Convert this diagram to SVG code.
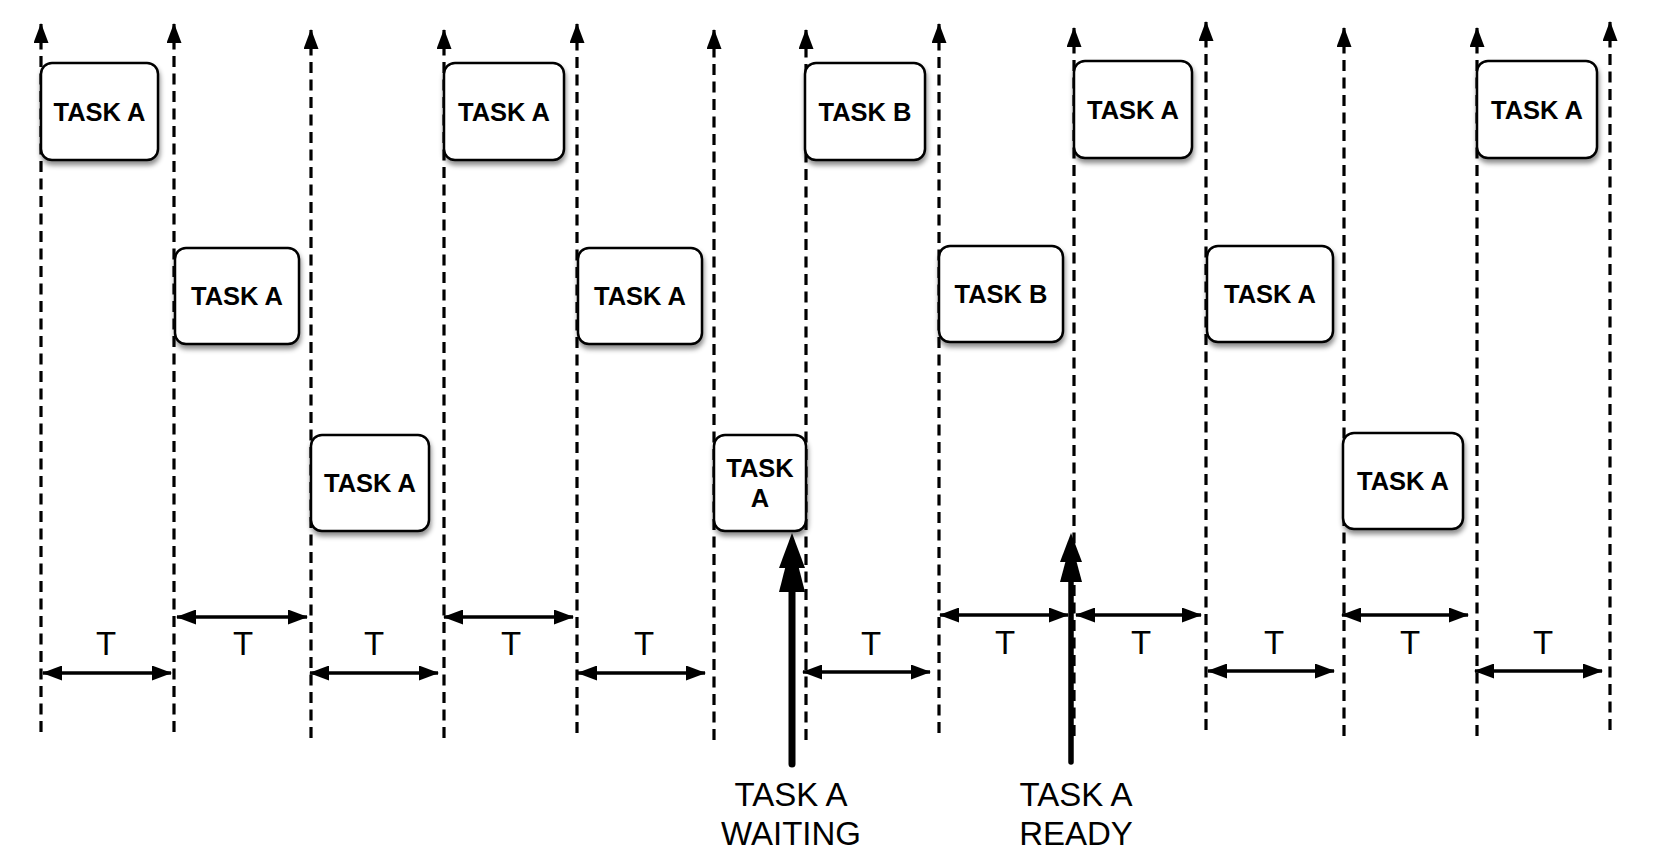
<svg xmlns="http://www.w3.org/2000/svg" width="1656" height="860" viewBox="0 0 1656 860">
<style>
.dl{fill:none;stroke:#000;stroke-width:3.2;stroke-dasharray:11 6.5}
.ha{fill:none;stroke:#000;stroke-width:3.5}
.box{fill:#fff;stroke:#000;stroke-width:2.5}
.bt{font-family:"Liberation Sans",Arial,Helvetica,sans-serif;font-weight:bold;font-size:25.5px;fill:#000;text-anchor:middle}
.tl{font-family:"Liberation Sans",Arial,Helvetica,sans-serif;font-size:33px;fill:#000;text-anchor:middle}
.th{fill:#000}
</style>
<defs>
<marker id="ah" viewBox="0 0 20 15" refX="19" refY="7.5" markerWidth="20" markerHeight="15" markerUnits="userSpaceOnUse" orient="auto-start-reverse">
<path d="M0,0 L20,7.5 L0,15 z" fill="#000"/>
</marker>
<filter id="sh" x="-20%" y="-20%" width="140%" height="150%">
<feDropShadow dx="1" dy="4" stdDeviation="2.5" flood-color="#000" flood-opacity="0.45"/>
</filter>
</defs>
<g id="connectors">
<path class="dl" d="M41,732 V24" marker-end="url(#ah)"/>
<path class="dl" d="M174,732 V24" marker-end="url(#ah)"/>
<path class="dl" d="M311,738 V30" marker-end="url(#ah)"/>
<path class="dl" d="M444,738 V30" marker-end="url(#ah)"/>
<path class="dl" d="M577,733 V24" marker-end="url(#ah)"/>
<path class="dl" d="M714,740 V30" marker-end="url(#ah)"/>
<path class="dl" d="M806,740 V30" marker-end="url(#ah)"/>
<path class="dl" d="M939,733 V24" marker-end="url(#ah)"/>
<path class="dl" d="M1074,736 V28" marker-end="url(#ah)"/>
<path class="dl" d="M1206,730 V22" marker-end="url(#ah)"/>
<path class="dl" d="M1344,736 V28" marker-end="url(#ah)"/>
<path class="dl" d="M1477,736 V28" marker-end="url(#ah)"/>
<path class="dl" d="M1610,730 V22" marker-end="url(#ah)"/>
<path class="ha" d="M43,673 H171" marker-start="url(#ah)" marker-end="url(#ah)"/>
<path class="ha" d="M177,617 H307" marker-start="url(#ah)" marker-end="url(#ah)"/>
<path class="ha" d="M310,673 H438" marker-start="url(#ah)" marker-end="url(#ah)"/>
<path class="ha" d="M444,617 H573" marker-start="url(#ah)" marker-end="url(#ah)"/>
<path class="ha" d="M578,673 H705" marker-start="url(#ah)" marker-end="url(#ah)"/>
<path class="ha" d="M803,672 H930" marker-start="url(#ah)" marker-end="url(#ah)"/>
<path class="ha" d="M940,615 H1068" marker-start="url(#ah)" marker-end="url(#ah)"/>
<path class="ha" d="M1076,615 H1201" marker-start="url(#ah)" marker-end="url(#ah)"/>
<path class="ha" d="M1208,671 H1334" marker-start="url(#ah)" marker-end="url(#ah)"/>
<path class="ha" d="M1342,615 H1468" marker-start="url(#ah)" marker-end="url(#ah)"/>
<path class="ha" d="M1475,671 H1602" marker-start="url(#ah)" marker-end="url(#ah)"/>
<path d="M792,764 V585" stroke="#000" stroke-width="7" stroke-linecap="round" fill="none"/>
<polygon class="th" points="792,541 805,592 779,592"/>
<polygon class="th" points="792,533 805,568 779,568"/>
<path d="M1071,762 V577" stroke="#000" stroke-width="5.5" stroke-linecap="round" fill="none"/>
<polygon class="th" points="1071,541 1082,582 1060,582"/>
<polygon class="th" points="1071,533 1082,562 1060,562"/>
</g>
<g id="n1"><rect class="box" filter="url(#sh)" x="41" y="63" width="117" height="97" rx="11"/><text class="bt" x="99.5" y="120.5">TASK A</text></g>
<g id="n2"><rect class="box" filter="url(#sh)" x="444" y="63" width="120" height="97" rx="11"/><text class="bt" x="504" y="120.5">TASK A</text></g>
<g id="n3"><rect class="box" filter="url(#sh)" x="805" y="63" width="120" height="97" rx="11"/><text class="bt" x="865" y="120.5">TASK B</text></g>
<g id="n4"><rect class="box" filter="url(#sh)" x="1074" y="61" width="118" height="97" rx="11"/><text class="bt" x="1133" y="118.5">TASK A</text></g>
<g id="n5"><rect class="box" filter="url(#sh)" x="1477" y="61" width="120" height="97" rx="11"/><text class="bt" x="1537" y="118.5">TASK A</text></g>
<g id="n6"><rect class="box" filter="url(#sh)" x="175" y="248" width="124" height="96" rx="11"/><text class="bt" x="237" y="305">TASK A</text></g>
<g id="n7"><rect class="box" filter="url(#sh)" x="578" y="248" width="124" height="96" rx="11"/><text class="bt" x="640" y="305">TASK A</text></g>
<g id="n8"><rect class="box" filter="url(#sh)" x="939" y="246" width="124" height="96" rx="11"/><text class="bt" x="1001" y="303">TASK B</text></g>
<g id="n9"><rect class="box" filter="url(#sh)" x="1207" y="246" width="126" height="96" rx="11"/><text class="bt" x="1270" y="303">TASK A</text></g>
<g id="n10"><rect class="box" filter="url(#sh)" x="311" y="435" width="118" height="96" rx="11"/><text class="bt" x="370" y="492">TASK A</text></g>
<g id="n11"><rect class="box" filter="url(#sh)" x="714" y="435" width="92" height="96" rx="11"/><text class="bt" x="760" y="477">TASK</text><text class="bt" x="760" y="507">A</text></g>
<g id="n12"><rect class="box" filter="url(#sh)" x="1343" y="433" width="120" height="96" rx="11"/><text class="bt" x="1403" y="490">TASK A</text></g>
<g id="labels">
<text class="tl" x="106" y="655">T</text>
<text class="tl" x="243" y="655">T</text>
<text class="tl" x="374" y="655">T</text>
<text class="tl" x="511" y="655">T</text>
<text class="tl" x="644" y="655">T</text>
<text class="tl" x="871" y="655">T</text>
<text class="tl" x="1005" y="654">T</text>
<text class="tl" x="1141" y="654">T</text>
<text class="tl" x="1274" y="654">T</text>
<text class="tl" x="1410" y="654">T</text>
<text class="tl" x="1543" y="654">T</text>
<text class="tl" x="791" y="806">TASK A</text>
<text class="tl" x="791" y="845">WAITING</text>
<text class="tl" x="1076" y="806">TASK A</text>
<text class="tl" x="1076" y="845">READY</text>
</g>
</svg>
